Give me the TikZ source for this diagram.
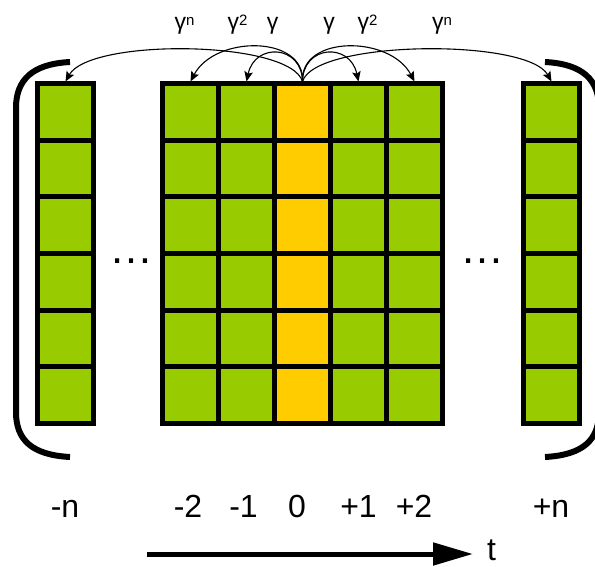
\documentclass[tikz,border=0pt]{standalone}
\usepackage{fontspec}
\setmainfont{Liberation Sans}
\usetikzlibrary{arrows.meta}
\definecolor{cellgreen}{RGB}{153,204,0}
\definecolor{cellyellow}{RGB}{255,204,0}
\newcommand{\gsup}[1]{γ\raisebox{4pt}{\fontsize{15}{15}\selectfont #1}}
\begin{document}
\begin{tikzpicture}[x=1pt,y=-1pt,
  cellbox/.style={draw=black, line width=5pt, minimum width=56pt, minimum height=56.5pt, inner sep=0pt, outer sep=2.5pt},
  gcell/.style={cellbox, fill=cellgreen},
  ycell/.style={cellbox, fill=cellyellow},
  bracket/.style={draw=black, line width=6pt},
  weight/.style={draw=black, line width=1.1pt, -{Stealth[length=10pt,width=8.5pt,inset=2pt]}},
  glabel/.style={anchor=base, inner sep=0pt, font=\fontsize{23}{27}\selectfont},
  tlabel/.style={anchor=base, inner sep=0pt, font=\fontsize{32}{36}\selectfont},
  dots/.style={anchor=base, inner sep=0pt, font=\fontsize{44}{44}\selectfont}]
\useasboundingbox (0,0) rectangle (595,567);

% cells
\foreach \r in {1,...,6} {
  \pgfmathsetmacro\yy{112.25+(\r-1)*56.5}
  \node[gcell] (L\r) at (65.5,\yy) {};
  \node[gcell] (m2\r) at (190.5,\yy) {};
  \node[gcell] (m1\r) at (246.5,\yy) {};
  \node[gcell] (p1\r) at (358.5,\yy) {};
  \node[gcell] (p2\r) at (414.5,\yy) {};
  \node[ycell] (z\r) at (302.5,\yy) {};
  \node[gcell] (R\r) at (551.5,\yy) {};
}

% brackets
\draw[bracket] (70,62) .. controls (32,64) and (16,80) .. (16,108) -- (16,412) .. controls (16,440) and (32,455) .. (70,457);
\draw[bracket] (545,62) .. controls (583,64) and (599,80) .. (599,108) -- (599,412) .. controls (599,440) and (583,455) .. (545,457);

% dots
\node[dots] (dl) at (131,263) {…};
\node[dots] (dr) at (482,263) {…};

% weight arrows
\draw[weight] (z1.north) .. controls +(-0.5,-36.5) and +(8.5,-39.5) .. (m11.north);
\draw[weight] (z1.north) .. controls +(2.5,-46.5) and +(24.5,-46.5) .. (m21.north);
\draw[weight] (z1.north) .. controls +(-12.5,-41.5) and +(24.5,-43.5) .. (L1.north);
\draw[weight] (z1.north) .. controls +(0.5,-36.5) and +(-8.5,-39.5) .. (p11.north);
\draw[weight] (z1.north) .. controls +(-2.5,-46.5) and +(-24.5,-46.5) .. (p21.north);
\draw[weight] (z1.north) .. controls +(12.5,-41.5) and +(-24.5,-43.5) .. (R1.north);

% weight labels
\node[glabel] (gln) at (184.5,30) {\gsup{n}};
\node[glabel] (gl2) at (237.5,30) {\gsup{2}};
\node[glabel] (gl1) at (272.5,30) {γ};
\node[glabel] (gr1) at (329,30) {γ};
\node[glabel] (gr2) at (367.5,30) {\gsup{2}};
\node[glabel] (grn) at (442,30) {\gsup{n}};

% time labels
\node[tlabel] (tmn) at (65,517) {-n};
\node[tlabel] (tm2) at (188,517) {-2};
\node[tlabel] (tm1) at (243.5,517) {-1};
\node[tlabel] (t0) at (297,517) {0};
\node[tlabel] (tp1) at (358.5,517) {+1};
\node[tlabel] (tp2) at (414,517) {+2};
\node[tlabel] (tpn) at (551,517) {+n};

% time axis
\coordinate (ts) at (147,554);
\coordinate (te) at (473,554);
\draw[line width=5pt, -{Triangle[length=40pt,width=22pt]}] (ts) -- (te);
\node[tlabel, anchor=base west] (tt) at (487,560) {t};
\end{tikzpicture}
\end{document}
